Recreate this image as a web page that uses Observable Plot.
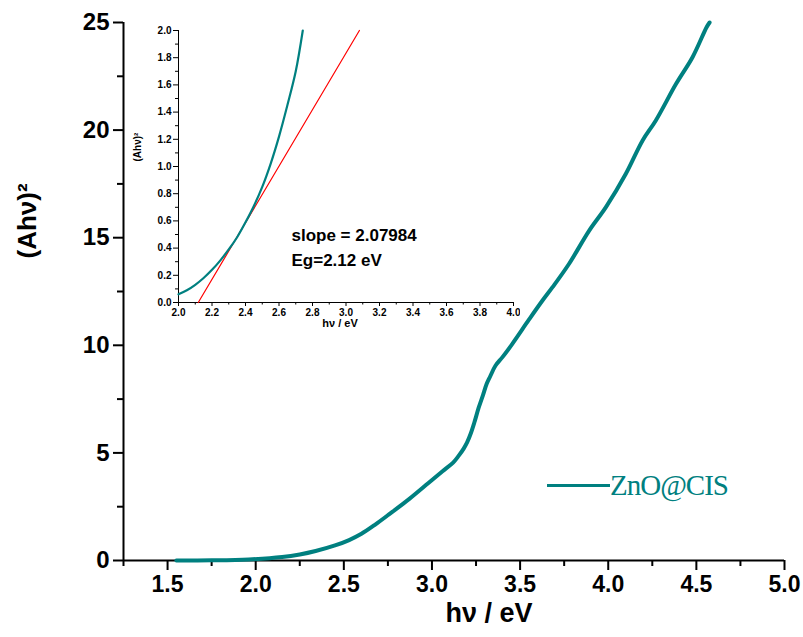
<!DOCTYPE html>
<html>
<head>
<meta charset="utf-8">
<script src="https://cdn.jsdelivr.net/npm/d3@7"></script>
<script src="https://cdn.jsdelivr.net/npm/@observablehq/plot@0.6"></script>
<style>
  body { margin: 0; background: white; }
  #wrap { position: relative; width: 803px; height: 637px; font-family: "Liberation Sans", Arial, sans-serif; }
  #wrap svg { position: absolute; background: transparent; }
  #legend { position: absolute; left: 547px; top: 467px; display: flex; align-items: center; }
  #legend .sw { width: 63px; height: 3px; background: #008080; }
  #legend .lb { font-family: "Liberation Serif", "Times New Roman", serif; font-size: 29px; color: #008080; letter-spacing: -1px; line-height: 36px; }
</style>
</head>
<body>
<div id="wrap"></div>
<script>
// Main curve: (Ahν)^2 vs hν (eV), ZnO@CIS
const mainX = [1.55, 1.75, 1.96, 2.15, 2.25, 2.34, 2.45, 2.53, 2.60, 2.68, 2.756, 2.87, 2.98, 3.06, 3.12, 3.15, 3.18, 3.20, 3.22, 3.24, 3.265, 3.29, 3.31, 3.33, 3.36, 3.40, 3.456, 3.551, 3.627, 3.684, 3.778, 3.892, 3.987, 4.10, 4.195, 4.27, 4.385, 4.479, 4.558, 4.575];
const mainY = [0, 0.01, 0.05, 0.16, 0.28, 0.44, 0.70, 0.95, 1.24, 1.68, 2.14, 2.85, 3.6, 4.15, 4.55, 4.85, 5.2, 5.5, 5.9, 6.4, 7.1, 7.7, 8.2, 8.55, 9.05, 9.45, 10.07, 11.2, 12.08, 12.70, 13.79, 15.33, 16.42, 17.97, 19.52, 20.45, 22.15, 23.4, 24.78, 25.0];

// Inset curve (zoom near the absorption edge)
const insetX = [2.0, 2.05, 2.1, 2.15, 2.2, 2.25, 2.3, 2.35, 2.4, 2.45, 2.5, 2.55, 2.6, 2.65, 2.7, 2.742];
const insetY = [0.06, 0.09, 0.13, 0.18, 0.24, 0.31, 0.39, 0.48, 0.59, 0.71, 0.85, 1.02, 1.22, 1.45, 1.7, 2.0];

// Linear fit (tangent) endpoints: slope = 2.07984, Eg = 2.12 eV
const fitX = [2.118, 3.080];
const fitY = [0, 2.0];

const seriesName = "ZnO@CIS";
const slopeText = "slope = 2.07984";
const egText = "Eg=2.12 eV";
const xLabel = "hν / eV";
const yLabel = "(Ahν)²";

const mainXTicks = [1.5, 2.0, 2.5, 3.0, 3.5, 4.0, 4.5, 5.0];
const mainXMinor = [1.25, 1.75, 2.25, 2.75, 3.25, 3.75, 4.25, 4.75];
const mainYTicks = [0, 5, 10, 15, 20, 25];
const mainYMinor = [2.5, 7.5, 12.5, 17.5, 22.5];

const insetXTicks = [2.0, 2.2, 2.4, 2.6, 2.8, 3.0, 3.2, 3.4, 3.6, 3.8, 4.0];
const insetXMinor = [2.1, 2.3, 2.5, 2.7, 2.9, 3.1, 3.3, 3.5, 3.7, 3.9];
const insetYTicks = [0, 0.2, 0.4, 0.6, 0.8, 1.0, 1.2, 1.4, 1.6, 1.8, 2.0];
const insetYMinor = [0.1, 0.3, 0.5, 0.7, 0.9, 1.1, 1.3, 1.5, 1.7, 1.9];

const teal = "#008080";
const mainData = mainX.map((x, i) => ({x, y: mainY[i]}));
const insetData = insetX.map((x, i) => ({x, y: insetY[i]}));
const fitData = fitX.map((x, i) => ({x, y: fitY[i]}));
const f1 = d3.format(".1f");

const font = "'Liberation Sans', Arial, sans-serif";

const main = Plot.plot({
  width: 803, height: 637,
  marginLeft: 123, marginRight: 19, marginTop: 22, marginBottom: 77,
  style: {fontFamily: font, background: "transparent", color: "black"},
  x: {domain: [1.25, 5.0]},
  y: {domain: [0, 25]},
  marks: [
    Plot.axisX({ticks: mainXMinor, tickSize: 6, tickFormat: () => "", label: null, strokeWidth: 2}),
    Plot.axisX({ticks: mainXTicks, tickSize: 10, tickPadding: 5, tickFormat: f1, label: null, fontSize: 23, fontWeight: "bold", strokeWidth: 2, letterSpacing: "-1px"}),
    Plot.axisY({ticks: mainYMinor, tickSize: 6, tickFormat: () => "", label: null, strokeWidth: 2}),
    Plot.axisY({ticks: mainYTicks, tickSize: 10, tickPadding: 4, tickFormat: d => d, label: null, fontSize: 24, fontWeight: "bold", strokeWidth: 2}),
    Plot.ruleY([0], {strokeWidth: 2}),
    Plot.ruleX([1.25], {strokeWidth: 2}),
    Plot.line(mainData, {x: "x", y: "y", stroke: teal, strokeWidth: 4, curve: "catmull-rom"}),
    Plot.text([xLabel], {text: d => d, frameAnchor: "bottom", dx: 35, dy: 61, fontSize: 27, fontWeight: "bold", letterSpacing: "-1px"}),
    Plot.text([yLabel], {text: d => d, frameAnchor: "left", dx: -96, dy: -33, rotate: -90, fontSize: 26, fontWeight: "bold"})
  ]
});
main.style.left = "0px"; main.style.top = "0px";

const inset = Plot.plot({
  width: 400, height: 340,
  marginLeft: 58, marginRight: 7, marginTop: 30, marginBottom: 38,
  style: {fontFamily: font, background: "transparent", color: "black"},
  x: {domain: [2.0, 4.0]},
  y: {domain: [0, 2.0]},
  marks: [
    Plot.axisX({ticks: insetXMinor, tickSize: 2.5, tickFormat: () => "", label: null}),
    Plot.axisX({ticks: insetXTicks, tickSize: 4, tickPadding: 2, tickFormat: f1, label: null, fontSize: 10, fontWeight: "bold"}),
    Plot.axisY({ticks: insetYMinor, tickSize: 3, tickFormat: () => "", label: null}),
    Plot.axisY({ticks: insetYTicks, tickSize: 5, tickPadding: 2, tickFormat: f1, label: null, fontSize: 10, fontWeight: "bold"}),
    Plot.ruleY([0]),
    Plot.ruleX([2.0]),
    Plot.line(fitData, {x: "x", y: "y", stroke: "red", strokeWidth: 1.2}),
    Plot.line(insetData, {x: "x", y: "y", stroke: teal, strokeWidth: 2.2, curve: "catmull-rom"}),
    Plot.text([slopeText], {text: d => d, frameAnchor: "top-left", dx: 113, dy: 198, textAnchor: "start", fontSize: 17, fontWeight: "bold", letterSpacing: "-0.5px"}),
    Plot.text([egText], {text: d => d, frameAnchor: "top-left", dx: 113, dy: 223, textAnchor: "start", fontSize: 17, fontWeight: "bold", letterSpacing: "-0.5px"}),
    Plot.text([xLabel], {text: d => d, frameAnchor: "bottom", dx: -6, dy: 24, fontSize: 11, fontWeight: "bold"}),
    Plot.text([yLabel], {text: d => d, frameAnchor: "left", dx: -41, dy: -5, rotate: -90, fontSize: 10, fontWeight: "bold"})
  ]
});
inset.style.left = "120px"; inset.style.top = "0px";

const wrap = document.getElementById("wrap");
wrap.appendChild(main);
wrap.appendChild(inset);

const legend = document.createElement("div");
legend.id = "legend";
legend.innerHTML = `<div class="sw"></div><div class="lb"></div>`;
legend.querySelector(".lb").textContent = seriesName;
wrap.appendChild(legend);
</script>
</body>
</html>
